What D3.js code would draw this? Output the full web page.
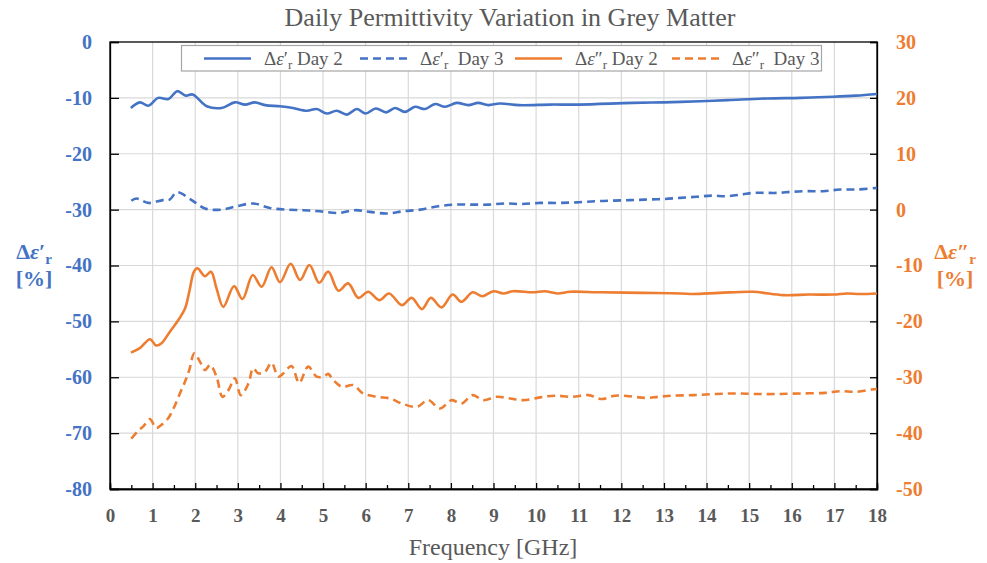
<!DOCTYPE html>
<html><head><meta charset="utf-8">
<script src="https://cdn.jsdelivr.net/npm/d3@7"></script>
<style>
body{margin:0;background:#fff;}
svg{display:block;}
svg text{font-family:"Liberation Serif",serif;}
</style></head><body>
<svg id="chart" width="987" height="563"></svg>
<script>
// Real permittivity change, Day 2 (left axis, %)
const fRealD2 = [0.49,0.70,0.90,1.13,1.37,1.58,1.78,1.94,2.27,2.62,2.93,3.17,3.40,3.64,3.99,4.29,4.62,4.85,5.09,5.32,5.56,5.79,6.00,6.24,6.48,6.69,6.92,7.16,7.39,7.63,7.86,8.14,8.41,8.64,8.88,9.15,9.6,10.33,11.0,12.27,13.0,13.85,14.5,15.42,16.2,16.97,17.5,18.0];
const realD2  = [-11.8,-10.8,-11.4,-10.0,-10.2,-8.8,-9.6,-9.4,-11.5,-11.8,-10.8,-11.2,-10.8,-11.3,-11.5,-11.8,-12.3,-12.0,-12.8,-12.3,-13.0,-12.0,-12.8,-11.9,-12.6,-11.8,-12.5,-11.6,-12.0,-11.1,-11.6,-10.9,-11.3,-10.9,-11.3,-11.0,-11.3,-11.2,-11.2,-10.9,-10.8,-10.6,-10.4,-10.1,-10.0,-9.8,-9.6,-9.3];

// Real permittivity change, Day 3 (left axis, %)
const fRealD3 = [0.50,0.62,0.90,1.24,1.40,1.57,1.88,2.23,2.62,2.97,3.36,3.75,4.15,4.54,4.93,5.36,5.75,6.10,6.49,6.88,7.28,7.70,8.10,8.49,8.88,9.27,9.66,10.09,10.52,10.95,11.38,11.77,12.20,12.60,12.99,13.38,13.77,14.12,14.47,14.82,15.10,15.37,15.68,16.0,16.35,16.74,17.13,17.52,18.0];
const realD3  = [-28.4,-28.0,-28.8,-28.3,-28.2,-26.9,-28.1,-29.8,-30.0,-29.4,-28.9,-29.7,-30.0,-30.1,-30.3,-30.6,-30.1,-30.4,-30.7,-30.3,-30.0,-29.4,-29.1,-29.1,-29.1,-28.9,-29.0,-28.8,-28.8,-28.7,-28.5,-28.4,-28.3,-28.2,-28.1,-27.9,-27.7,-27.5,-27.6,-27.3,-27.0,-27.0,-27.0,-26.8,-26.7,-26.7,-26.4,-26.4,-26.1];

// Imaginary permittivity change, Day 2 (right axis, %)
const fImagD2 = [0.49,0.70,0.94,1.08,1.21,1.41,1.60,1.76,1.86,1.97,2.05,2.23,2.37,2.50,2.66,2.91,3.11,3.35,3.56,3.79,3.99,4.24,4.46,4.68,4.91,5.12,5.36,5.59,5.83,6.06,6.32,6.55,6.85,7.08,7.32,7.53,7.78,8.04,8.25,8.51,8.74,9.0,9.23,9.46,9.93,10.2,10.5,10.8,11.5,12.5,13.4,13.68,14.3,15.09,15.8,16.4,16.97,17.3,17.6,18.0];
const imagD2  = [-25.6,-24.8,-23.2,-24.3,-23.9,-21.8,-19.8,-17.7,-14.7,-11.1,-10.5,-11.9,-11.1,-14.1,-17.4,-13.7,-16.0,-11.7,-13.8,-10.3,-13.0,-9.7,-12.6,-9.9,-13.1,-11.1,-14.5,-13.2,-15.8,-14.7,-16.2,-15.0,-17.1,-15.8,-17.8,-15.8,-17.5,-15.2,-16.5,-14.8,-15.5,-14.6,-15.0,-14.6,-14.8,-14.6,-15.0,-14.7,-14.8,-14.9,-15.0,-15.1,-14.9,-14.7,-15.3,-15.2,-15.2,-15.0,-15.1,-15.0];

// Imaginary permittivity change, Day 3 (right axis, %)
const fImagD3 = [0.50,0.66,0.78,0.94,1.08,1.21,1.37,1.49,1.64,1.76,1.86,1.98,2.11,2.23,2.35,2.50,2.64,2.78,2.93,3.07,3.25,3.36,3.48,3.64,3.79,3.95,4.07,4.26,4.44,4.65,4.85,5.01,5.12,5.24,5.44,5.71,5.94,6.26,6.57,6.85,7.20,7.47,7.74,8.02,8.25,8.51,8.76,9.08,9.39,9.70,10.09,10.44,10.84,11.23,11.54,11.85,12.20,12.56,12.87,13.18,13.69,14.2,14.7,15.18,15.65,16.19,16.78,17.13,17.52,17.88,18.0];
const imagD3  = [-41.0,-39.6,-38.8,-37.5,-39.1,-38.5,-37.3,-35.6,-32.9,-30.8,-28.7,-25.7,-27.2,-28.7,-27.8,-29.9,-33.5,-32.3,-30.2,-33.2,-31.1,-28.4,-29.3,-29.0,-27.4,-29.9,-29.3,-28.0,-31.0,-28.1,-29.9,-29.9,-29.4,-30.5,-31.7,-31.4,-32.9,-33.5,-33.8,-34.7,-35.3,-34.1,-35.6,-34.1,-34.7,-33.2,-34.1,-33.5,-33.8,-34.1,-33.6,-33.3,-33.5,-33.2,-33.9,-33.3,-33.4,-33.7,-33.5,-33.3,-33.2,-33.0,-32.9,-33.0,-33.0,-32.9,-32.8,-32.5,-32.6,-32.2,-32.1];

// Axis ticks
const xTicks = d3.range(0, 19, 1);
const xMinorTicks = d3.range(0.5, 18, 1);
const leftTicks = [0,-10,-20,-30,-40,-50,-60,-70,-80];
const rightTicks = [30,20,10,0,-10,-20,-30,-40,-50];

const legendLabels = [
  {prime: "′", day: " Day 2"},
  {prime: "′", day: "  Day 3"},
  {prime: "″", day: " Day 2"},
  {prime: "″", day: "  Day 3"}
];

const BLUE = "#4472C4", ORANGE = "#ED7D31", GREY = "#595959", GRID = "#D9D9D9";
const SERIF = "Liberation Serif, serif";

const svg = d3.select("#chart");
const L = 110, R = 877, T = 42, B = 489;

const x = d3.scaleLinear().domain([0, 18]).range([L, R]);
const yL = d3.scaleLinear().domain([-80, 0]).range([B, T]);
const yR = d3.scaleLinear().domain([-50, 30]).range([B, T]);
const plain = d => String(d);

// Grid
const grid = svg.append("g");
grid.selectAll("line.v").data(xTicks.slice(1, -1)).join("line")
  .attr("x1", d => x(d)).attr("x2", d => x(d)).attr("y1", T).attr("y2", B)
  .attr("stroke", GRID).attr("stroke-width", 1.2);
grid.selectAll("line.h").data(leftTicks.slice(1, -1)).join("line")
  .attr("x1", L).attr("x2", R).attr("y1", d => yL(d)).attr("y2", d => yL(d))
  .attr("stroke", GRID).attr("stroke-width", 1.2);

// Plot frame
svg.append("rect").attr("x", L).attr("y", T).attr("width", R - L).attr("height", B - T)
  .attr("fill", "none").attr("stroke", "#000").attr("stroke-width", 1.3);

// Axes
const gx = svg.append("g").attr("transform", `translate(0,${B})`)
  .call(d3.axisBottom(x).tickValues(xTicks).tickSize(-6).tickPadding(20).tickFormat(plain));
const gxm = svg.append("g").attr("transform", `translate(0,${B})`)
  .call(d3.axisBottom(x).tickValues(xMinorTicks).tickSize(-4).tickFormat(""));
const gl = svg.append("g").attr("transform", `translate(${L},0)`)
  .call(d3.axisLeft(yL).tickValues(leftTicks).tickSize(-9).tickPadding(18).tickFormat(plain));
const gr = svg.append("g").attr("transform", `translate(${R},0)`)
  .call(d3.axisRight(yR).tickValues(rightTicks).tickSize(-7).tickPadding(19).tickFormat(plain));

[gx, gxm, gl, gr].forEach(g => {
  g.attr("font-family", SERIF);
  g.select(".domain").attr("stroke", "#000").attr("stroke-width", 1.3);
  g.selectAll(".tick line").attr("stroke", "#000").attr("stroke-width", 1.3);
  g.selectAll("text").attr("font-weight", "bold");
});
gx.selectAll("text").attr("fill", GREY).attr("font-size", 19);
gl.selectAll("text").attr("fill", BLUE).attr("font-size", 20);
gr.selectAll("text").attr("fill", ORANGE).attr("font-size", 20);

// Series
const lineL = d3.line().x(d => x(d[0])).y(d => yL(d[1])).curve(d3.curveCatmullRom.alpha(0.5));
const lineR = d3.line().x(d => x(d[0])).y(d => yR(d[1])).curve(d3.curveCatmullRom.alpha(0.5));
const series = [
  {f: fRealD2, v: realD2, line: lineL, color: BLUE, dash: null},
  {f: fRealD3, v: realD3, line: lineL, color: BLUE, dash: "8,5"},
  {f: fImagD2, v: imagD2, line: lineR, color: ORANGE, dash: null},
  {f: fImagD3, v: imagD3, line: lineR, color: ORANGE, dash: "8,5"}
];
series.forEach(s => {
  svg.append("path").datum(d3.zip(s.f, s.v))
    .attr("d", s.line).attr("fill", "none").attr("stroke", s.color)
    .attr("stroke-width", 2.6).attr("stroke-linejoin", "round")
    .attr("stroke-dasharray", s.dash);
});

// Legend
const lg = svg.append("g").attr("font-family", SERIF);
lg.append("rect").attr("x", 181.5).attr("y", 45.5).attr("width", 640).attr("height", 25.5)
  .attr("fill", "#fff").attr("stroke", "#A6A6A6").attr("stroke-width", 1.2);
const legendX = [204, 360, 515, 672];
series.forEach((s, i) => {
  const lx = legendX[i];
  lg.append("line").attr("x1", lx).attr("x2", lx + 47).attr("y1", 58.5).attr("y2", 58.5)
    .attr("stroke", s.color).attr("stroke-width", 2.6).attr("stroke-dasharray", s.dash);
  const t = lg.append("text").attr("x", lx + 60).attr("y", 65)
    .attr("font-size", 19).attr("fill", GREY).style("white-space", "pre");
  t.append("tspan").text("Δ");
  t.append("tspan").attr("font-style", "italic").text("ε");
  t.append("tspan").text(legendLabels[i].prime);
  t.append("tspan").attr("font-size", 13).attr("dy", 4).text("r");
  t.append("tspan").attr("dy", -4).text(legendLabels[i].day);
});

// Title
svg.append("text").attr("x", 510).attr("y", 26).attr("text-anchor", "middle")
  .attr("font-family", SERIF).attr("font-size", 26).attr("fill", GREY)
  .text("Daily Permittivity Variation in Grey Matter");

// X axis title
svg.append("text").attr("x", 493).attr("y", 555).attr("text-anchor", "middle")
  .attr("font-family", SERIF).attr("font-size", 24).attr("fill", GREY).text("Frequency [GHz]");

// Y axis titles
function yTitle(cx, prime, color) {
  const g = svg.append("g").attr("font-family", SERIF).attr("font-weight", "bold")
    .attr("fill", color).attr("font-size", 22);
  const t = g.append("text").attr("x", cx).attr("y", 259).attr("text-anchor", "middle");
  t.append("tspan").text("Δ");
  t.append("tspan").attr("font-style", "italic").text("ε");
  t.append("tspan").text(prime);
  t.append("tspan").attr("font-size", 15).attr("dy", 5).text("r");
  g.append("text").attr("x", cx).attr("y", 286).attr("text-anchor", "middle").text("[%]");
}
yTitle(34, "′", BLUE);
yTitle(955, "″", ORANGE);
</script>
</body></html>
